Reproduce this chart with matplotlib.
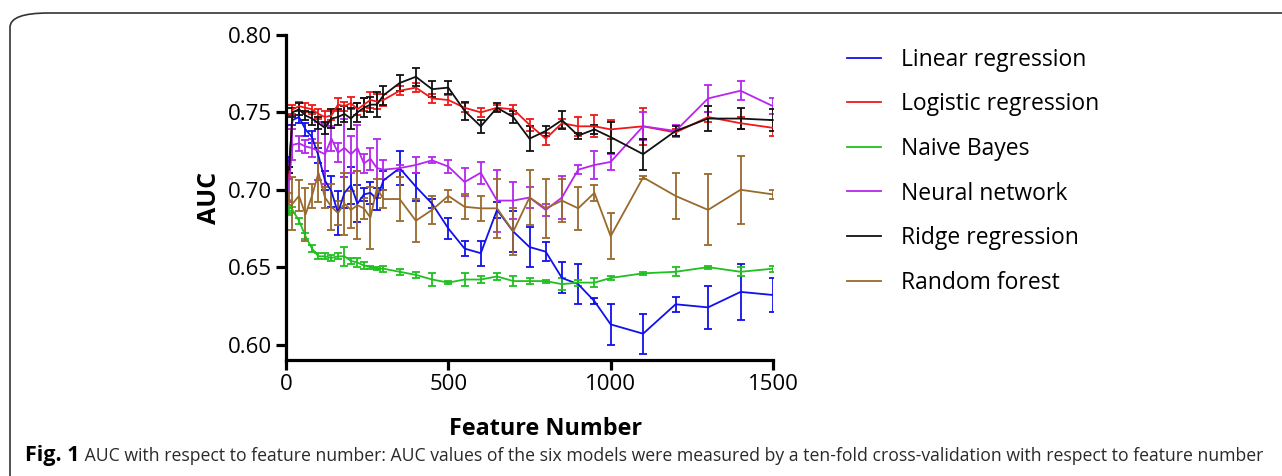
import matplotlib
matplotlib.use("Agg")
import matplotlib.pyplot as plt
from matplotlib.lines import Line2D
from matplotlib.patches import FancyBboxPatch
from matplotlib import font_manager as fm
import numpy as np

# ---------------- data ----------------
feature_number = [10, 20, 40, 60, 80, 100, 120, 140, 160, 180, 200, 220, 240, 260, 280, 300,
                  350, 400, 450, 500, 550, 600, 650, 700, 750, 800, 850, 900, 950, 1000,
                  1100, 1200, 1300, 1400, 1500]

linear_auc = [0.718, 0.745, 0.747, 0.739, 0.734, 0.722, 0.706, 0.699, 0.685, 0.698, 0.703, 0.691,
              0.697, 0.698, 0.694, 0.706, 0.714, 0.702, 0.691, 0.675, 0.662, 0.659, 0.687, 0.673,
              0.663, 0.660, 0.643, 0.639, 0.628, 0.613, 0.607, 0.626, 0.624, 0.634, 0.632]
linear_err = [0.003, 0.003, 0.004, 0.004, 0.004, 0.005, 0.006, 0.010, 0.014, 0.010, 0.012, 0.012,
              0.004, 0.007, 0.007, 0.006, 0.011, 0.009, 0.003, 0.007, 0.005, 0.008, 0.005, 0.013,
              0.013, 0.006, 0.010, 0.013, 0.002, 0.013, 0.013, 0.005, 0.014, 0.018, 0.011]

logistic_auc = [0.709, 0.752, 0.754, 0.753, 0.752, 0.749, 0.747, 0.748, 0.755, 0.754, 0.756, 0.752,
                0.755, 0.758, 0.757, 0.758, 0.764, 0.766, 0.759, 0.758, 0.753, 0.750, 0.753, 0.752,
                0.742, 0.733, 0.743, 0.741, 0.741, 0.739, 0.741, 0.737, 0.747, 0.743, 0.740]
logistic_err = [0.002, 0.003, 0.003, 0.003, 0.003, 0.003, 0.004, 0.003, 0.004, 0.003, 0.004, 0.004,
                0.004, 0.005, 0.005, 0.004, 0.003, 0.003, 0.003, 0.003, 0.003, 0.003, 0.002, 0.003,
                0.004, 0.004, 0.003, 0.006, 0.007, 0.006, 0.012, 0.002, 0.003, 0.004, 0.005]

bayes_auc = [0.686, 0.687, 0.680, 0.670, 0.662, 0.657, 0.657, 0.656, 0.657, 0.657, 0.654, 0.653,
             0.651, 0.650, 0.649, 0.649, 0.647, 0.645, 0.642, 0.640, 0.642, 0.642, 0.644, 0.641,
             0.641, 0.641, 0.639, 0.640, 0.640, 0.643, 0.646, 0.647, 0.650, 0.647, 0.649]
bayes_err = [0.002, 0.002, 0.002, 0.002, 0.002, 0.002, 0.002, 0.002, 0.002, 0.006, 0.002, 0.003,
             0.002, 0.001, 0.001, 0.002, 0.002, 0.002, 0.004, 0.001, 0.004, 0.002, 0.002, 0.003,
             0.002, 0.001, 0.004, 0.002, 0.003, 0.001, 0.001, 0.003, 0.001, 0.003, 0.002]

neural_auc = [0.706, 0.729, 0.730, 0.728, 0.727, 0.725, 0.723, 0.733, 0.724, 0.727, 0.723, 0.727,
              0.717, 0.720, 0.714, 0.713, 0.714, 0.716, 0.719, 0.715, 0.705, 0.711, 0.693, 0.693,
              0.695, 0.687, 0.695, 0.713, 0.716, 0.718, 0.741, 0.738, 0.759, 0.764, 0.754]
neural_err = [0.014, 0.010, 0.005, 0.004, 0.006, 0.019, 0.019, 0.008, 0.006, 0.019, 0.012, 0.015,
              0.006, 0.007, 0.019, 0.006, 0.002, 0.005, 0.002, 0.004, 0.009, 0.007, 0.020, 0.012,
              0.007, 0.004, 0.014, 0.003, 0.009, 0.005, 0.009, 0.004, 0.009, 0.006, 0.005]

ridge_auc = [0.713, 0.750, 0.752, 0.748, 0.746, 0.743, 0.740, 0.746, 0.747, 0.749, 0.746, 0.750,
             0.753, 0.755, 0.755, 0.761, 0.769, 0.773, 0.765, 0.766, 0.751, 0.741, 0.753, 0.747,
             0.733, 0.738, 0.745, 0.735, 0.739, 0.734, 0.723, 0.738, 0.746, 0.746, 0.745]
ridge_err = [0.002, 0.003, 0.004, 0.003, 0.004, 0.004, 0.004, 0.006, 0.005, 0.005, 0.007, 0.006,
             0.006, 0.005, 0.008, 0.006, 0.005, 0.006, 0.005, 0.004, 0.006, 0.004, 0.003, 0.004,
             0.008, 0.003, 0.006, 0.002, 0.003, 0.010, 0.010, 0.003, 0.008, 0.007, 0.007]

forest_auc = [0.694, 0.691, 0.696, 0.684, 0.696, 0.711, 0.695, 0.689, 0.685, 0.691, 0.687, 0.690,
              0.688, 0.682, 0.701, 0.694, 0.694, 0.680, 0.687, 0.696, 0.689, 0.688, 0.688, 0.673,
              0.695, 0.688, 0.693, 0.688, 0.698, 0.670, 0.708, 0.696, 0.687, 0.700, 0.697]
forest_err = [0.004, 0.017, 0.010, 0.017, 0.008, 0.019, 0.007, 0.015, 0.008, 0.020, 0.012, 0.022,
              0.007, 0.020, 0.006, 0.006, 0.014, 0.014, 0.009, 0.004, 0.008, 0.008, 0.019, 0.015,
              0.018, 0.019, 0.014, 0.014, 0.005, 0.015, 0.001, 0.015, 0.023, 0.022, 0.003]

series_names = ["Linear regression", "Logistic regression", "Naive Bayes",
                "Neural network", "Ridge regression", "Random forest"]
series_values = [linear_auc, logistic_auc, bayes_auc, neural_auc, ridge_auc, forest_auc]
series_errors = [linear_err, logistic_err, bayes_err, neural_err, ridge_err, forest_err]
series_colors = ["#1010ee", "#f01818", "#20c020", "#b526ee", "#111111", "#9a6a2c"]

x_ticks = [0, 500, 1000, 1500]
y_ticks = [0.60, 0.65, 0.70, 0.75, 0.80]

caption_bold = "Fig. 1"
caption_rest = (" AUC with respect to feature number: AUC values of the six models were "
                "measured by a ten-fold cross-validation with respect to feature number")

# ---------------- fonts ----------------
available = {f.name for f in fm.fontManager.ttflist}
main_font = "Open Sans" if "Open Sans" in available else "DejaVu Sans"
caption_font = "Liberation Sans Narrow" if "Liberation Sans Narrow" in available else main_font

W, H = 1282, 476
fig = plt.figure(figsize=(W / 100, H / 100), dpi=100)
fig.patch.set_facecolor("white")

# rounded frame (extends past right and bottom edges)
frame = FancyBboxPatch((10 / W, -0.2), 1.2, 1.2 - 13 / H,
                       boxstyle="round,pad=0,rounding_size=0.03",
                       transform=fig.transFigure, facecolor="none",
                       edgecolor="#333333", linewidth=1.2, mutation_aspect=H / W * 2.7)
fig.patches.append(frame)

ax = fig.add_axes([286 / W, 1 - 360 / H, (773 - 286) / W, (360 - 35) / H])

for vals, errs, col in zip(series_values, series_errors, series_colors):
    ax.errorbar(feature_number, vals, yerr=errs, color=col, ecolor=col,
                linewidth=1.3, elinewidth=1.3, capsize=3.2, capthick=1.3)

ax.set_xlim(0, 1500)
ax.set_ylim(0.59, 0.80)
ax.set_xticks(x_ticks)
ax.set_yticks(y_ticks)
ax.set_xticklabels([str(t) for t in x_ticks])
ax.set_yticklabels([f"{t:.2f}" for t in y_ticks])
for side in ("top", "right"):
    ax.spines[side].set_visible(False)
for side in ("left", "bottom"):
    ax.spines[side].set_linewidth(2.3)
    ax.spines[side].set_color("black")
ax.tick_params(axis="both", which="major", length=7, width=2.3, direction="out",
               labelsize=16, pad=3)
for lab in ax.get_xticklabels() + ax.get_yticklabels():
    lab.set_fontfamily(main_font)

ax.set_xlabel("Feature Number", fontsize=16.8, fontweight="bold", family=main_font, va="center")
ax.xaxis.set_label_coords((546 - 286) / 487, -(429 - 360) / 325)
ax.set_ylabel("AUC", fontsize=18, fontweight="bold", family=main_font, labelpad=4)

handles = [Line2D([0], [0], color=c, linewidth=1.3) for c in series_colors]
fig.legend(handles, series_names, loc="upper left", bbox_to_anchor=(826 / W, 1 - 27 / H),
           frameon=False, prop={"family": main_font, "size": 16.5},
           handlelength=1.48, handletextpad=0.91, labelspacing=0.9)

# caption
cap_y = 1 - 456 / H
t1 = fig.text(25 / W, cap_y, caption_bold, fontsize=15.5, fontweight="bold",
              family=main_font, va="center", ha="left")
fig.canvas.draw()
r = fig.canvas.get_renderer()
bb = t1.get_window_extent(renderer=r)
t2 = fig.text(bb.x1 / W, cap_y, caption_rest, fontsize=14, family=caption_font,
              va="center", ha="left", color="#2a2a2a")
fig.canvas.draw()
bb2 = t2.get_window_extent(renderer=r)
target = 1268 - bb.x1
t2.set_fontsize(14 * target / bb2.width)

fig.savefig("out.png", dpi=100)
